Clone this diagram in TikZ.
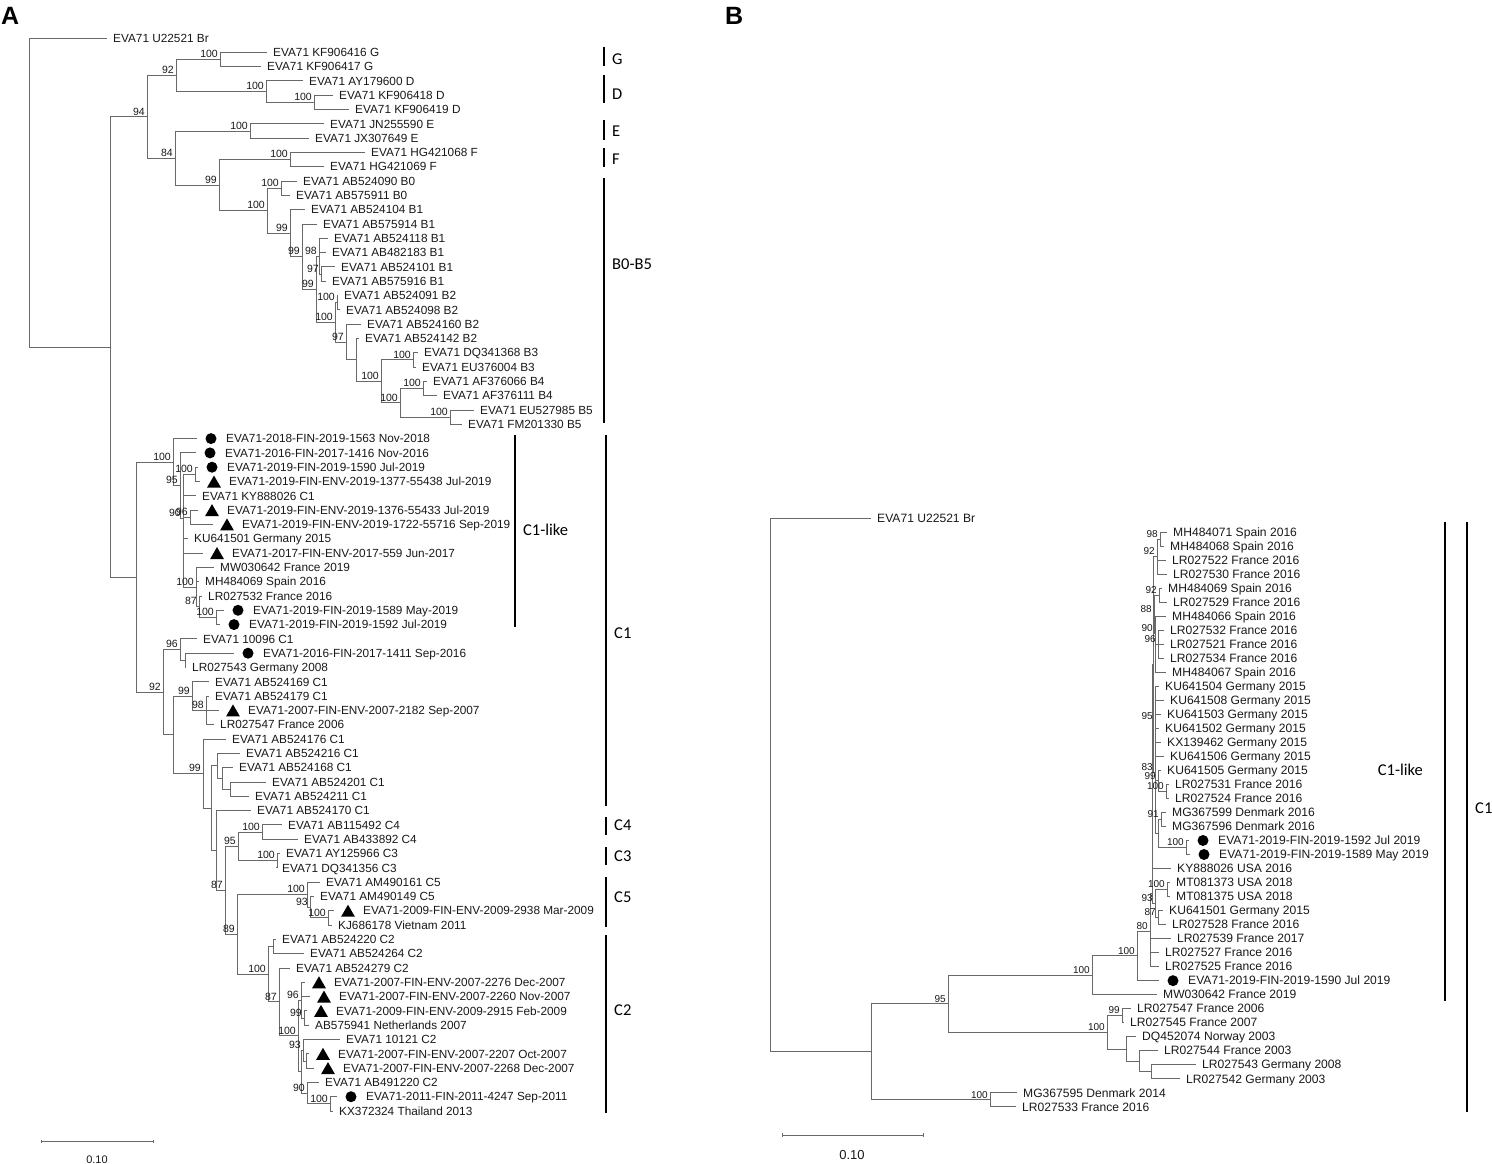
\documentclass[tikz,border=0pt]{standalone}
\usepackage{fontspec}
\setmainfont{Liberation Sans}
\newfontfamily\cladefont{Carlito}
\usepackage{tikz}
\usetikzlibrary{calc}
\usetikzlibrary{shapes.geometric}

\definecolor{branch}{RGB}{105,105,105}
\definecolor{txt}{RGB}{25,25,25}

% leaf rows (pixel grid)
\newcommand\rowA[1]{38+(#1-1)*14.307}
\newcommand\rowB[1]{518+(#1-1)*14.02}

% taxon: name, tip x, y, text
\newcommand\taxon[4]{\coordinate (#1) at (#2,{#3}); \node[lbl] (#1t) at (#1) {#4};}
\newcommand\taxond[4]{\coordinate (#1) at (#2,{#3}); \node[dotm] (#1m) at ([xshift=14pt]#1) {}; \node[lbl,xshift=23pt] (#1t) at (#1) {#4};}
\newcommand\taxont[4]{\coordinate (#1) at (#2,{#3}); \node[trim] (#1m) at ([xshift=14pt,yshift=-2pt]#1) {}; \node[lbl,xshift=23pt] (#1t) at (#1) {#4};}
% clade: name, x, first child, last child, children
\newcommand\clade[5]{\path let \p1=($(#3)!.5!(#4)$) in (#2pt,\y1) coordinate (#1); \foreach \ch in {#5}{\draw[br] (#1) |- (\ch);}}
\newcommand\cladeat[4]{\coordinate (#1) at (#2,#3); \foreach \ch in {#4}{\draw[br] (#1) |- (\ch);}}

\tikzset{
  br/.style={draw=branch, line width=0.9pt},
  lbl/.style={anchor=base west, inner sep=0pt, xshift=6pt, yshift=-4.2pt, text=txt, font=\fontsize{11.8}{13}\selectfont},
  bsv/.style={anchor=south east, inner sep=0pt, xshift=-2pt, yshift=1.5pt, text=txt, font=\fontsize{10.5}{11}\selectfont},
  dotm/.style={circle, fill=black, inner sep=0pt, minimum size=11pt},
  trim/.style={regular polygon, regular polygon sides=3, fill=black, inner sep=0pt, minimum size=16pt},
  cbar/.style={draw=black, line width=1.8pt},
  clab/.style={anchor=west, inner sep=0pt, font=\cladefont\fontsize{16.5}{18}\selectfont},
  sbar/.style={draw=branch, line width=0.8pt},
}

\begin{document}
\begin{tikzpicture}[x=1pt, y=-1pt]
	\useasboundingbox (0,0) rectangle (1492,1164);
	\fill[white] (0,0) rectangle (1492,1164);
	
	% panel letters
	\node[anchor=north west, inner sep=0pt, font=\bfseries\fontsize{25}{27}\selectfont] (pA) at (1,7) {A};
	\node[anchor=north west, inner sep=0pt, font=\bfseries\fontsize{25}{27}\selectfont] (pB) at (725,7) {B};
	
	%%%%%%%%%%%%%%%% panel A
	% taxa
	\taxon{a1}{107}{\rowA{1}}{EVA71 U22521 Br}
	\taxon{a2}{267}{\rowA{2}}{EVA71 KF906416 G}
	\taxon{a3}{261}{\rowA{3}}{EVA71 KF906417 G}
	\taxon{a4}{303}{\rowA{4}}{EVA71 AY179600 D}
	\taxon{a5}{333}{\rowA{5}}{EVA71 KF906418 D}
	\taxon{a6}{349}{\rowA{6}}{EVA71 KF906419 D}
	\taxon{a7}{324}{\rowA{7}}{EVA71 JN255590 E}
	\taxon{a8}{309}{\rowA{8}}{EVA71 JX307649 E}
	\taxon{a9}{365}{\rowA{9}}{EVA71 HG421068 F}
	\taxon{a10}{324}{\rowA{10}}{EVA71 HG421069 F}
	\taxon{a11}{297}{\rowA{11}}{EVA71 AB524090 B0}
	\taxon{a12}{290}{\rowA{12}}{EVA71 AB575911 B0}
	\taxon{a13}{305}{\rowA{13}}{EVA71 AB524104 B1}
	\taxon{a14}{317}{\rowA{14}}{EVA71 AB575914 B1}
	\taxon{a15}{328}{\rowA{15}}{EVA71 AB524118 B1}
	\taxon{a16}{326}{\rowA{16}}{EVA71 AB482183 B1}
	\taxon{a17}{335}{\rowA{17}}{EVA71 AB524101 B1}
	\taxon{a18}{326}{\rowA{18}}{EVA71 AB575916 B1}
	\taxon{a19}{338}{\rowA{19}}{EVA71 AB524091 B2}
	\taxon{a20}{340}{\rowA{20}}{EVA71 AB524098 B2}
	\taxon{a21}{361}{\rowA{21}}{EVA71 AB524160 B2}
	\taxon{a22}{359}{\rowA{22}}{EVA71 AB524142 B2}
	\taxon{a23}{418}{\rowA{23}}{EVA71 DQ341368 B3}
	\taxon{a24}{416}{\rowA{24}}{EVA71 EU376004 B3}
	\taxon{a25}{427}{\rowA{25}}{EVA71 AF376066 B4}
	\taxon{a26}{437}{\rowA{26}}{EVA71 AF376111 B4}
	\taxon{a27}{474}{\rowA{27}}{EVA71 EU527985 B5}
	\taxon{a28}{462}{\rowA{28}}{EVA71 FM201330 B5}
	\taxond{a29}{197}{\rowA{29}}{EVA71-2018-FIN-2019-1563 Nov-2018}
	\taxond{a30}{196}{\rowA{30}}{EVA71-2016-FIN-2017-1416 Nov-2016}
	\taxond{a31}{198}{\rowA{31}}{EVA71-2019-FIN-2019-1590 Jul-2019}
	\taxont{a32}{200}{\rowA{32}}{EVA71-2019-FIN-ENV-2019-1377-55438 Jul-2019}
	\taxon{a33}{196}{\rowA{33}}{EVA71 KY888026 C1}
	\taxont{a34}{198}{\rowA{34}}{EVA71-2019-FIN-ENV-2019-1376-55433 Jul-2019}
	\taxont{a35}{213}{\rowA{35}}{EVA71-2019-FIN-ENV-2019-1722-55716 Sep-2019}
	\taxon{a36}{188}{\rowA{36}}{KU641501 Germany 2015}
	\taxont{a37}{203}{\rowA{37}}{EVA71-2017-FIN-ENV-2017-559 Jun-2017}
	\taxon{a38}{214}{\rowA{38}}{MW030642 France 2019}
	\taxon{a39}{199}{\rowA{39}}{MH484069 Spain 2016}
	\taxon{a40}{202}{\rowA{40}}{LR027532 France 2016}
	\taxond{a41}{224}{\rowA{41}}{EVA71-2019-FIN-2019-1589 May-2019}
	\taxond{a42}{220}{\rowA{42}}{EVA71-2019-FIN-2019-1592 Jul-2019}
	\taxon{a43}{197}{\rowA{43}}{EVA71 10096 C1}
	\taxond{a44}{234}{\rowA{44}}{EVA71-2016-FIN-2017-1411 Sep-2016}
	\taxon{a45}{186}{\rowA{45}}{LR027543 Germany 2008}
	\taxon{a46}{209}{\rowA{46}}{EVA71 AB524169 C1}
	\taxon{a47}{209}{\rowA{47}}{EVA71 AB524179 C1}
	\taxont{a48}{219}{\rowA{48}}{EVA71-2007-FIN-ENV-2007-2182 Sep-2007}
	\taxon{a49}{214}{\rowA{49}}{LR027547 France 2006}
	\taxon{a50}{226}{\rowA{50}}{EVA71 AB524176 C1}
	\taxon{a51}{240}{\rowA{51}}{EVA71 AB524216 C1}
	\taxon{a52}{233}{\rowA{52}}{EVA71 AB524168 C1}
	\taxon{a53}{266}{\rowA{53}}{EVA71 AB524201 C1}
	\taxon{a54}{249}{\rowA{54}}{EVA71 AB524211 C1}
	\taxon{a55}{251}{\rowA{55}}{EVA71 AB524170 C1}
	\taxon{a56}{282}{\rowA{56}}{EVA71 AB115492 C4}
	\taxon{a57}{298}{\rowA{57}}{EVA71 AB433892 C4}
	\taxon{a58}{280}{\rowA{58}}{EVA71 AY125966 C3}
	\taxon{a59}{276}{\rowA{59}}{EVA71 DQ341356 C3}
	\taxon{a60}{320}{\rowA{60}}{EVA71 AM490161 C5}
	\taxon{a61}{314}{\rowA{61}}{EVA71 AM490149 C5}
	\taxont{a62}{334}{\rowA{62}}{EVA71-2009-FIN-ENV-2009-2938 Mar-2009}
	\taxon{a63}{332}{\rowA{63}}{KJ686178 Vietnam 2011}
	\taxon{a64}{276}{\rowA{64}}{EVA71 AB524220 C2}
	\taxon{a65}{304}{\rowA{65}}{EVA71 AB524264 C2}
	\taxon{a66}{290}{\rowA{66}}{EVA71 AB524279 C2}
	\taxont{a67}{305}{\rowA{67}}{EVA71-2007-FIN-ENV-2007-2276 Dec-2007}
	\taxont{a68}{310}{\rowA{68}}{EVA71-2007-FIN-ENV-2007-2260 Nov-2007}
	\taxont{a69}{307}{\rowA{69}}{EVA71-2009-FIN-ENV-2009-2915 Feb-2009}
	\taxon{a70}{309}{\rowA{70}}{AB575941 Netherlands 2007}
	\taxon{a71}{340}{\rowA{71}}{EVA71 10121 C2}
	\taxont{a72}{309}{\rowA{72}}{EVA71-2007-FIN-ENV-2007-2207 Oct-2007}
	\taxont{a73}{314}{\rowA{73}}{EVA71-2007-FIN-ENV-2007-2268 Dec-2007}
	\taxon{a74}{319}{\rowA{74}}{EVA71 AB491220 C2}
	\taxond{a75}{337}{\rowA{75}}{EVA71-2011-FIN-2011-4247 Sep-2011}
	\taxon{a76}{333}{\rowA{76}}{KX372324 Thailand 2013}
	
	% G, D, E, F, B genogroups
	\clade{nG}{220}{a2}{a3}{a2,a3}
	\clade{nD2}{314}{a5}{a6}{a5,a6}
	\clade{nD}{266}{a4}{nD2}{a4,nD2}
	\clade{n92}{176}{nG}{nD}{nG,nD}
	\clade{nE}{250}{a7}{a8}{a7,a8}
	\clade{nF}{290}{a9}{a10}{a9,a10}
	\clade{nB0}{281}{a11}{a12}{a11,a12}
	\clade{n97}{321}{a17}{a18}{a17,a18}
	\clade{n98}{319}{a15}{n97}{a15,a16,n97}
	\clade{n100c}{337}{a19}{a20}{a19,a20}
	\clade{nB3}{413}{a23}{a24}{a23,a24}
	\clade{nB4}{423}{a25}{a26}{a25,a26}
	\clade{nB5}{450}{a27}{a28}{a27,a28}
	\clade{nB45}{400}{nB4}{nB5}{nB4,nB5}
	\clade{n100d}{381}{nB3}{nB45}{nB3,nB45}
	\clade{nY}{356}{a22}{n100d}{a22,n100d}
	\clade{n97b}{346}{a21}{nY}{a21,nY}
	\clade{n100b}{335}{n100c}{n97b}{n100c,n97b}
	\clade{n99c}{316}{n98}{n100b}{n98,n100b}
	\clade{n99b}{302}{a14}{n99c}{a14,n99c}
	\clade{n99a}{290}{a13}{n99b}{a13,n99b}
	\clade{nB}{267}{nB0}{n99a}{nB0,n99a}
	\clade{n99f}{219}{nF}{nB}{nF,nB}
	\clade{n84}{175}{nE}{n99f}{nE,n99f}
	\clade{n94}{147}{n92}{n84}{n92,n84}
	
	% C1-like
	\clade{n100e}{195}{a31}{a32}{a31,a32}
	\clade{n96}{190}{a34}{a35}{a34,a35}
	\clade{n100h}{216}{a41}{a42}{a41,a42}
	\clade{n87}{199}{a40}{n100h}{a40,n100h}
	\clade{n100g}{196}{a38}{n87}{a38,a39,n87}
	\cladeat{n90}{183}{518}{n100e,a33,n96,a36,a37,n100g}
	\clade{n95}{180}{a30}{n90}{a30,n90}
	\clade{nC1L}{173}{a29}{n95}{a29,n95}
	% C1, C3, C4, C5, C2
	\clade{nX}{185}{a44}{a45}{a44,a45}
	\clade{n96b}{180}{a43}{nX}{a43,nX}
	\clade{n98b}{206}{a47}{a49}{a47,a48,a49}
	\clade{n99e}{192}{a46}{n98b}{a46,n98b}
	\clade{nS}{230}{a53}{a54}{a53,a54}
	\clade{nT}{222}{a52}{nS}{a52,nS}
	\clade{nU}{217}{a51}{nT}{a51,nT}
	\clade{nC4}{262}{a56}{a57}{a56,a57}
	\clade{nC3}{277}{a58}{a59}{a58,a59}
	\clade{n95c}{238}{nC4}{nC3}{nC4,nC3}
	\clade{n100i}{328}{a62}{a63}{a62,a63}
	\clade{n93}{310}{a61}{n100i}{a61,n100i}
	\clade{nC5}{307}{a60}{n93}{a60,n93}
	\clade{n2a}{273}{a64}{a65}{a64,a65}
	\clade{n99h}{304}{a69}{a70}{a69,a70}
	\clade{n96c}{301}{a67}{n99h}{a67,a68,n99h}
	\clade{n2b}{306}{a72}{a73}{a72,a73}
	\clade{n93b}{303}{a71}{n2b}{a71,n2b}
	\clade{n100k}{330}{a75}{a76}{a75,a76}
	\clade{n90b}{307}{a74}{n100k}{a74,n100k}
	\clade{nM}{301}{n93b}{n90b}{n93b,n90b}
	\clade{n100j}{298}{n96c}{nM}{n96c,nM}
	\clade{n87d}{279}{a66}{n100j}{a66,n100j}
	\clade{nC2}{268}{n2a}{n87d}{n2a,n87d}
	\clade{n89}{237}{nC5}{nC2}{nC5,nC2}
	\clade{n87c}{225}{n95c}{n89}{n95c,n89}
	\clade{nV}{216}{a55}{n87c}{a55,n87c}
	\clade{nP}{211}{nU}{nV}{nU,nV}
	\clade{n99g}{203}{a50}{nP}{a50,nP}
	\clade{nR}{173}{n99e}{n99g}{n99e,n99g}
	\clade{n92c}{163}{n96b}{nR}{n96b,nR}
	\clade{nC}{136}{nC1L}{n92c}{nC1L,n92c}
	% root
	\clade{ing}{110}{n94}{nC}{n94,nC}
	\clade{rA}{29}{a1}{ing}{a1,ing}
	
	% bootstrap values
	\foreach \nn/\vv in {n94/94, n92/92, nG/100, nD/100, nD2/100, n84/84, nE/100, n99f/99, nF/100,
		nB/100, nB0/100, n99a/99, n99b/99, n98/98, n97/97, n99c/99, n100c/100, n100b/100, n97b/97,
		n100d/100, nB3/100, nB45/100, nB4/100, nB5/100, nC1L/100, n95/95, n100e/100, n90/90, n96/96,
		n100g/100, n87/87, n100h/100, n96b/96, n92c/92, n99e/99, n98b/98, n99g/99, n87c/87, n95c/95,
		nC4/100, nC3/100, n89/89, nC5/100, n93/93, n100i/100, nC2/100, n87d/87, n100j/100, n96c/96,
		n99h/99, n93b/93, n90b/90, n100k/100}
		\node[bsv] (\nn v) at (\nn) {\vv};
	
	% genotype bars
	\foreach \cn/\bx/\ya/\yb/\ly/\ct in {G/604/47/66/59/G, D/604/75/103/94/D, E/604/120/140/131/E,
		F/604/148/167/159/F, B/604/178/423/264/B0-B5, Cl/515/435/627/530/C1-like, Ca/606/435/806/633/C1,
		Cf/606/817/835/825/C4, Ct/606/847/865/856/C3, Cv/606/877/927/897/C5, Cw/606/935/1113/1010/C2}
	{
		\coordinate (\cn T) at (\bx,\ya);
		\coordinate (\cn B) at (\bx,\yb);
		\draw[cbar] (\cn T) -- (\cn B);
		\node[clab] (\cn L) at (\bx+8,\ly) {\ct};
	}
	
	% scale bar A
	\coordinate (sA1) at (41,1141);
	\coordinate (sA2) at (153,1141);
	\draw[sbar] (sA1) -- (sA2);
	\draw[sbar] ([yshift=1.5pt]sA1) -- ([yshift=-1.5pt]sA1);
	\draw[sbar] ([yshift=1.5pt]sA2) -- ([yshift=-1.5pt]sA2);
	\node[text=txt, font=\fontsize{11}{12}\selectfont] (sAt) at (97,1160) {0.10};
	
	%%%%%%%%%%%%%%%% panel B
	\begin{scope}[lbl/.append style={font=\fontsize{12.1}{13}\selectfont}, bsv/.append style={font=\fontsize{10}{11}\selectfont}]
	\taxon{b1}{871}{\rowB{1}}{EVA71 U22521 Br}
	\taxon{b2}{1167}{\rowB{2}}{MH484071 Spain 2016}
	\taxon{b3}{1164}{\rowB{3}}{MH484068 Spain 2016}
	\taxon{b4}{1166}{\rowB{4}}{LR027522 France 2016}
	\taxon{b5}{1167}{\rowB{5}}{LR027530 France 2016}
	\taxon{b6}{1162}{\rowB{6}}{MH484069 Spain 2016}
	\taxon{b7}{1167}{\rowB{7}}{LR027529 France 2016}
	\taxon{b8}{1166}{\rowB{8}}{MH484066 Spain 2016}
	\taxon{b9}{1164}{\rowB{9}}{LR027532 France 2016}
	\taxon{b10}{1164}{\rowB{10}}{LR027521 France 2016}
	\taxon{b11}{1164}{\rowB{11}}{LR027534 France 2016}
	\taxon{b12}{1166}{\rowB{12}}{MH484067 Spain 2016}
	\taxon{b13}{1159}{\rowB{13}}{KU641504 Germany 2015}
	\taxon{b14}{1164}{\rowB{14}}{KU641508 Germany 2015}
	\taxon{b15}{1161}{\rowB{15}}{KU641503 Germany 2015}
	\taxon{b16}{1159}{\rowB{16}}{KU641502 Germany 2015}
	\taxon{b17}{1161}{\rowB{17}}{KX139462 Germany 2015}
	\taxon{b18}{1164}{\rowB{18}}{KU641506 Germany 2015}
	\taxon{b19}{1161}{\rowB{19}}{KU641505 Germany 2015}
	\taxon{b20}{1169}{\rowB{20}}{LR027531 France 2016}
	\taxon{b21}{1169}{\rowB{21}}{LR027524 France 2016}
	\taxon{b22}{1166}{\rowB{22}}{MG367599 Denmark 2016}
	\taxon{b23}{1166}{\rowB{23}}{MG367596 Denmark 2016}
	\taxond{b24}{1189}{\rowB{24}}{EVA71-2019-FIN-2019-1592 Jul 2019}
	\taxond{b25}{1190}{\rowB{25}}{EVA71-2019-FIN-2019-1589 May 2019}
	\taxon{b26}{1171}{\rowB{26}}{KY888026 USA 2016}
	\taxon{b27}{1170}{\rowB{27}}{MT081373 USA 2018}
	\taxon{b28}{1170}{\rowB{28}}{MT081375 USA 2018}
	\taxon{b29}{1163}{\rowB{29}}{KU641501 Germany 2015}
	\taxon{b30}{1166}{\rowB{30}}{LR027528 France 2016}
	\taxon{b31}{1171}{\rowB{31}}{LR027539 France 2017}
	\taxon{b32}{1159}{\rowB{32}}{LR027527 France 2016}
	\taxon{b33}{1159}{\rowB{33}}{LR027525 France 2016}
	\taxond{b34}{1159}{\rowB{34}}{EVA71-2019-FIN-2019-1590 Jul 2019}
	\taxon{b35}{1157}{\rowB{35}}{MW030642 France 2019}
	\taxon{b36}{1131}{\rowB{36}}{LR027547 France 2006}
	\taxon{b37}{1124}{\rowB{37}}{LR027545 France 2007}
	\taxon{b38}{1136}{\rowB{38}}{DQ452074 Norway 2003}
	\taxon{b39}{1158}{\rowB{39}}{LR027544 France 2003}
	\taxon{b40}{1196}{\rowB{40}}{LR027543 Germany 2008}
	\taxon{b41}{1180}{\rowB{41}}{LR027542 Germany 2003}
	\taxon{b42}{1017}{\rowB{42}}{MG367595 Denmark 2014}
	\taxon{b43}{1016}{\rowB{43}}{LR027533 France 2016}
	
	% C1-like comb
	\clade{q98}{1160}{b2}{b3}{b2,b3}
	\clade{q92a}{1157}{q98}{b5}{q98,b4,b5}
	\clade{q92b}{1159}{b6}{b7}{b6,b7}
	\clade{q96}{1158}{b9}{b11}{b9,b10,b11}
	\cladeat{q90}{1155}{633}{b8,q96,b12}
	\clade{q88}{1154}{q92b}{q90}{q92b,q90}
	\clade{q95}{1155}{b13}{b18}{b13,b14,b15,b16,b17,b18}
	\clade{q100a}{1166}{b20}{b21}{b20,b21}
	\clade{q99}{1158}{b19}{q100a}{b19,q100a}
	\clade{q91}{1161}{b22}{b23}{b22,b23}
	\clade{q100b}{1186}{b24}{b25}{b24,b25}
	\clade{q91b}{1158}{q91}{q100b}{q91,q100b}
	\cladeat{q83}{1155}{772}{q95,q99,q91b}
	\clade{q100c}{1167}{b27}{b28}{b27,b28}
	\clade{q87}{1158}{b29}{b30}{b29,b30}
	\clade{q93}{1155}{q100c}{q87}{q100c,q87}
	\cladeat{qSp}{1153}{664}{q92a,q88,q83}
	\cladeat{qK}{1152}{893}{qSp,b26,q93}
	\cladeat{q80}{1150}{931}{qK,b31,b32,b33}
	\clade{q100x}{1137}{q80}{b34}{q80,b34}
	\clade{qC1}{1092}{q100x}{b35}{q100x,b35}
	% older C1 strains
	\clade{q99y}{1122}{b36}{b37}{b36,b37}
	\clade{qS}{1151}{b40}{b41}{b40,b41}
	\clade{qR}{1139}{b39}{qS}{b39,qS}
	\clade{qQ}{1126}{b38}{qR}{b38,qR}
	\clade{q100y}{1107}{q99y}{qQ}{q99y,qQ}
	\clade{q95z}{948}{qC1}{q100y}{qC1,q100y}
	\clade{q100z}{990}{b42}{b43}{b42,b43}
	% root
	\clade{qIng}{871}{q95z}{q100z}{q95z,q100z}
	\clade{qRoot}{770}{b1}{qIng}{b1,qIng}
	
	% bootstrap values
	\foreach \nn/\vv in {q98/98, q92a/92, q92b/92, q96/96, q90/90, q88/88, q95/95, q100a/100, q99/99,
		q83/83, q91/91, q100b/100, q100c/100, q93/93, q87/87, q80/80, q100x/100, qC1/100, q95z/95,
		q99y/99, q100y/100, q100z/100}
		\node[bsv] (\nn v) at (\nn) {\vv};
	\end{scope}
	
	% bars B
	\coordinate (clT) at (1445,522);
	\coordinate (clB) at (1445,1001);
	\draw[cbar] (clT) -- (clB);
	\node[clab, anchor=east] (clL) at (1423,770) {C1-like};
	\coordinate (c1T) at (1467,522);
	\coordinate (c1B) at (1467,1112);
	\draw[cbar] (c1T) -- (c1B);
	\node[clab] (c1L) at (1475,808) {C1};
	
	% scale bar B
	\coordinate (sB1) at (782,1135);
	\coordinate (sB2) at (923,1135);
	\draw[sbar] (sB1) -- (sB2);
	\draw[sbar] ([yshift=2pt]sB1) -- ([yshift=-2pt]sB1);
	\draw[sbar] ([yshift=2pt]sB2) -- ([yshift=-2pt]sB2);
	\node[text=txt, font=\fontsize{13}{15}\selectfont] (sBt) at (852,1155) {0.10};
\end{tikzpicture}
\end{document}
